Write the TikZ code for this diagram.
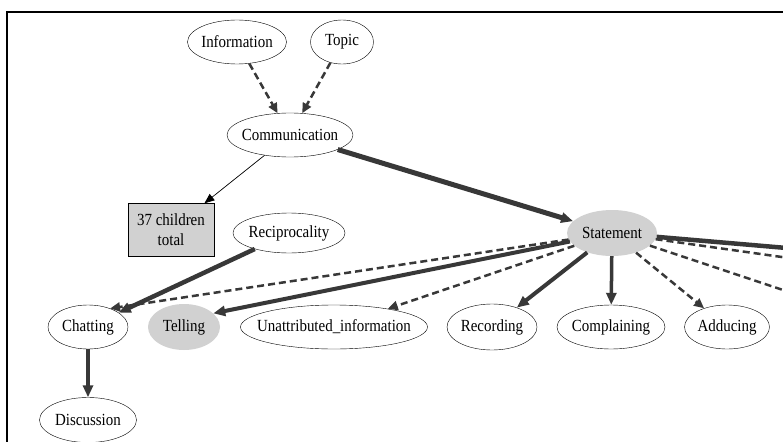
\documentclass[tikz,border=0pt]{standalone}
\usepackage{fontspec}
\setmainfont[FakeStretch=0.88]{Liberation Serif}
\usetikzlibrary{shapes.geometric,arrows.meta}
\definecolor{edgegray}{gray}{0.22}
\definecolor{nodegray}{gray}{0.82}
\newcommand{\lbl}[1]{\makebox[0pt]{#1}}

\begin{document}
\begin{tikzpicture}[x=1pt,y=-1pt,
		every node/.style={font=\fontsize{17}{20}\selectfont},
		ell/.style={ellipse,draw,inner sep=0pt,minimum height=44pt},
		shaded/.style={ellipse,fill=nodegray,inner sep=0pt,minimum height=46pt},
		thicklink/.style={draw=edgegray,line width=4pt,-{Triangle[length=12pt,width=10pt]}},
		dashlink/.style={draw=edgegray,line width=2.5pt,dash pattern=on 7pt off 4pt,-{Triangle[length=10pt,width=9pt]}},
		thinlink/.style={draw=black,line width=0.7pt,-{Triangle[length=10pt,width=8pt]}}]
		\useasboundingbox (0,0) rectangle (783,441);
		\clip (0,0) rectangle (783,441);
		\draw[line width=2pt] (7,442) -- (7,12) -- (784,12);
		
		\node[ell,minimum width=99pt] (info) at (237,42) {\lbl{Information}};
		\node[ell,minimum width=63pt] (topic) at (342,42) {\lbl{Topic}};
		\node[ell,minimum width=126pt] (comm) at (290,135) {\lbl{Communication}};
		\node[draw,fill=nodegray,minimum width=86pt,minimum height=53pt,align=center] (total) at (171,230) {37 children\\total};
		\node[ell,minimum width=112pt,minimum height=40pt] (recip) at (289,233) {\lbl{Reciprocality}};
		\node[shaded,minimum width=90pt] (stmt) at (612,233) {\lbl{Statement}};
		
		\node[ell,minimum width=80pt] (chat) at (88,327) {\lbl{Chatting}};
		\node[shaded,minimum width=72pt] (tell) at (184,327) {\lbl{Telling}};
		\node[ell,minimum width=187pt] (unattr) at (334,327) {\lbl{Unattributed\_information}};
		\node[ell,minimum width=90pt,minimum height=46pt] (rec) at (492,327) {\lbl{Recording}};
		\node[ell,minimum width=108pt] (compl) at (611,327) {\lbl{Complaining}};
		\node[ell,minimum width=85pt] (adduc) at (727,327) {\lbl{Adducing}};
		\node[ell,minimum width=97pt,minimum height=45pt] (disc) at (88,420) {\lbl{Discussion}};
		
		\coordinate (offa) at (810,250);
		\coordinate (offb) at (810,261);
		\coordinate (offc) at (810,299);
		
		\draw[dashlink] (info) -- (comm);
		\draw[dashlink] (topic) -- (comm);
		\draw[thinlink] (comm) -- (total);
		\draw[thicklink,line width=5pt] (comm) -- (stmt);
		\draw[thicklink,line width=4.5pt] (recip) -- (chat);
		\draw[dashlink] (stmt) -- (chat.40);
		\draw[thicklink] (stmt) -- (tell.25);
		\draw[dashlink] (stmt) -- (unattr);
		\draw[thicklink] (stmt) -- (rec);
		\draw[thicklink,line width=3.5pt] (stmt) -- (compl);
		\draw[dashlink] (stmt) -- (adduc);
		\draw[thicklink,line width=3.5pt] (chat) -- (disc);
		\draw[draw=edgegray,line width=4.5pt] (stmt) -- (offa);
		\draw[draw=edgegray,line width=2.5pt,dash pattern=on 7pt off 4pt] (stmt) -- (offb);
		\draw[draw=edgegray,line width=2.5pt,dash pattern=on 7pt off 4pt] (stmt) -- (offc);
	\end{tikzpicture}
\end{document}
